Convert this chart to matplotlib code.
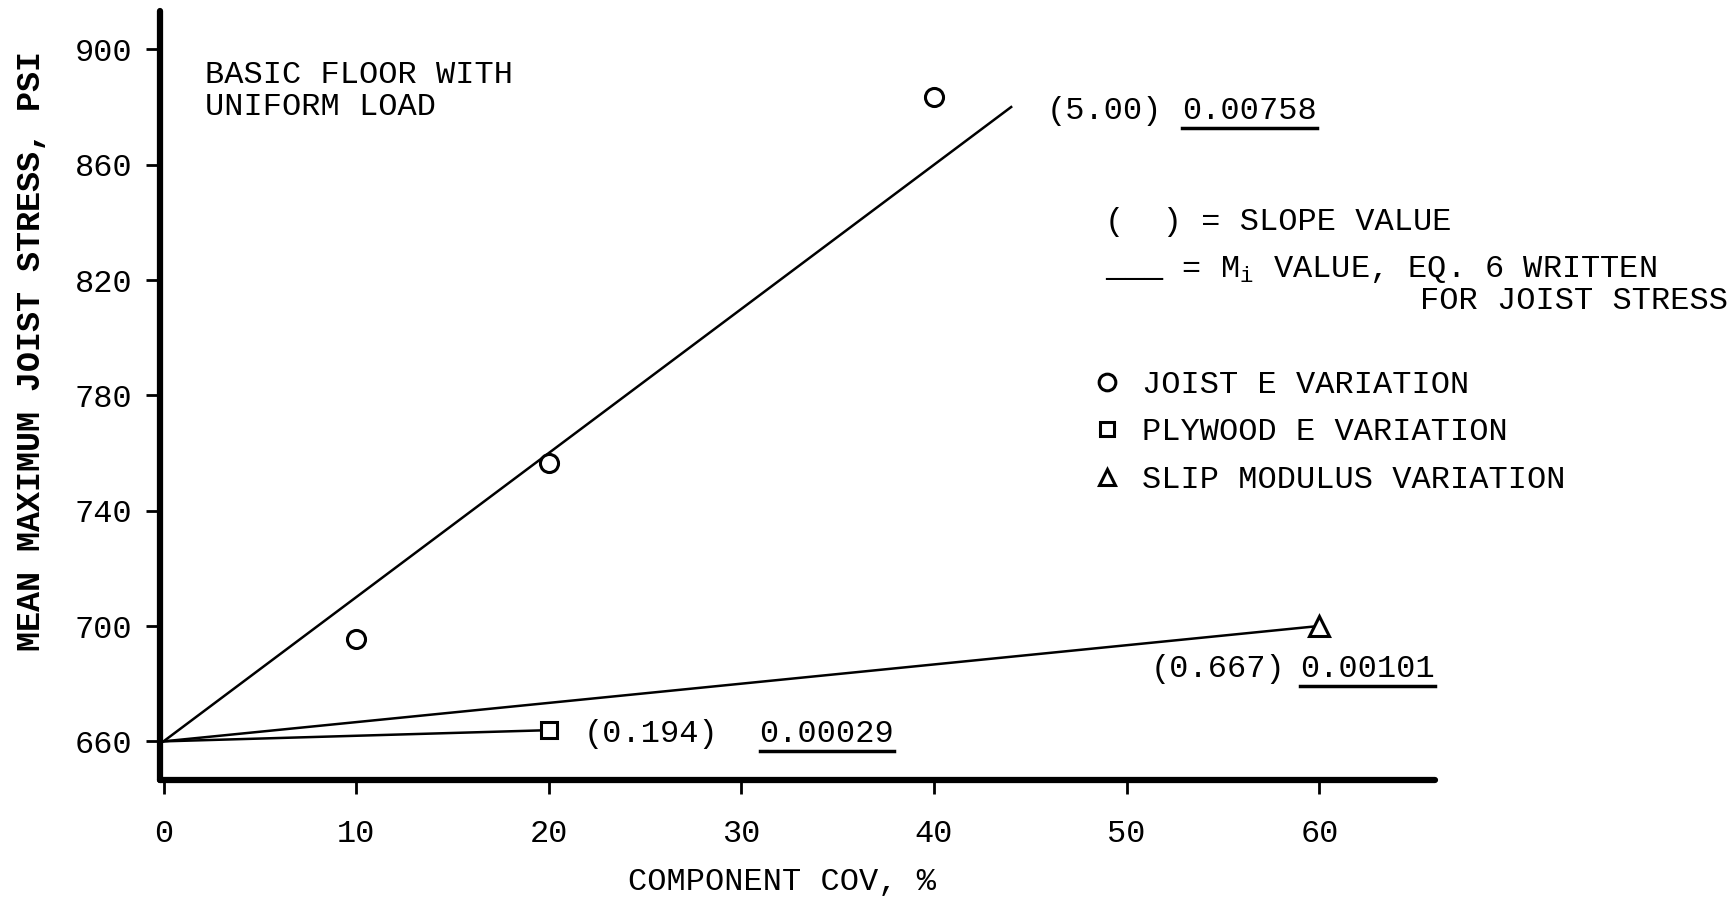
import numpy as np
import matplotlib
matplotlib.use("Agg")
import matplotlib.pyplot as plt
from matplotlib.lines import Line2D

plt.rcParams['font.family'] = ['Liberation Mono', 'DejaVu Sans Mono']
plt.rcParams['mathtext.fontset'] = 'custom'
plt.rcParams['mathtext.rm'] = 'Liberation Mono'
plt.rcParams['mathtext.it'] = 'Liberation Mono'

# %% data
base_stress = 660.0
slopes = {"joist": 5.00, "plywood": 0.194, "slip": 0.667}
mi_values = {"joist": "0.00758", "plywood": "0.00029", "slip": "0.00101"}
line_end = {"joist": 44.0, "plywood": 20.0, "slip": 60.0}

joist_cov = [10, 20, 40]
joist_stress = [695.5, 756.5, 883.5]
plywood_cov = [20]
plywood_stress = [663.9]
slip_cov = [60]
slip_stress = [700]

xticks = [0, 10, 20, 30, 40, 50, 60]
yticks = [660, 700, 740, 780, 820, 860, 900]

FS = 23

# %% plot
fig = plt.figure(figsize=(17.36, 9.01), dpi=100)
ax = fig.add_axes([0.0922, 0.1343, 0.7344, 0.8535])

for key in ["joist", "plywood", "slip"]:
    xs = np.array([0.0, line_end[key]])
    ax.plot(xs, base_stress + slopes[key] * xs, color="black", lw=1.8, zorder=2)

mk = dict(linestyle="none", mfc="white", mec="black", mew=2.2, ms=13, zorder=3)
ax.plot(joist_cov, joist_stress, marker="o", **mk)
ax.plot(plywood_cov, plywood_stress, marker="s", **dict(mk, ms=11))
ax.plot(slip_cov, slip_stress, marker="^", **dict(mk, ms=14))

ax.set_xlim(-0.18, 66.0)
ax.set_ylim(646.6, 913.3)
ax.set_xticks(xticks)
ax.set_yticks(yticks)
ax.tick_params(direction="out", length=10, width=2, labelsize=FS)
ax.tick_params(axis="x", pad=18)
ax.tick_params(axis="y", pad=10)
for s in ["top", "right"]:
    ax.spines[s].set_visible(False)
for s in ["left", "bottom"]:
    ax.spines[s].set_linewidth(4.5)
    ax.spines[s].set_capstyle("round")

ax.set_xlabel("COMPONENT COV, %", fontsize=FS, va="center")
ax.xaxis.set_label_coords(0.488, -0.132)
ax.set_ylabel("MEAN MAXIMUM JOIST STRESS, PSI", fontsize=24, fontweight="bold", va="center")
ax.yaxis.set_label_coords(-0.101, 0.558)

# notes
fig.text(0.118, 0.9165, "BASIC FLOOR WITH", fontsize=FS, va="center")
fig.text(0.118, 0.881, "UNIFORM LOAD", fontsize=FS, va="center")

fig.text(0.6365, 0.754, "(  ) = SLOPE VALUE", fontsize=FS, va="center")
fig.text(0.6365, 0.701, "___ = M$_\\mathrm{i}$ VALUE, EQ. 6 WRITTEN", fontsize=FS, va="center")
fig.text(0.818, 0.666, "FOR JOIST STRESS", fontsize=FS, va="center")

# slope and Mi labels next to each line
labels = [
    ("joist", "%.2f", 0.6027, 0.681, 0.877),
    ("slip", "%.3f", 0.663, 0.749, 0.257),
    ("plywood", "%.3f", 0.336, 0.4375, 0.1855),
]
mi_texts = []
for key, fmt, xs_, xm_, y_ in labels:
    fig.text(xs_, y_, "(" + fmt % slopes[key] + ")", fontsize=FS, va="center")
    mi_texts.append(fig.text(xm_, y_, mi_values[key], fontsize=FS, va="center"))

handles = [
    Line2D([], [], marker="o", **dict(mk, ms=12)),
    Line2D([], [], marker="s", **dict(mk, ms=10)),
    Line2D([], [], marker="^", **dict(mk, ms=12)),
]
ax.legend(handles, ["JOIST E VARIATION", "PLYWOOD E VARIATION", "SLIP MODULUS VARIATION"],
          loc="upper left", bbox_to_anchor=(0.72, 0.55), frameon=False, fontsize=FS,
          handlelength=1.0, handletextpad=0.6, labelspacing=0.55, borderaxespad=0)

# underline the Mi values
fig.canvas.draw()
r = fig.canvas.get_renderer()
inv = fig.transFigure.inverted()
for t in mi_texts:
    bb = t.get_window_extent(r)
    (x0, y0), (x1, _) = inv.transform([(bb.x0, bb.y0), (bb.x1, bb.y1)])
    fig.add_artist(Line2D([x0, x1], [y0 - 0.002, y0 - 0.002], color="black", lw=2.5,
                          transform=fig.transFigure))

fig.savefig("out.png", dpi=100)
